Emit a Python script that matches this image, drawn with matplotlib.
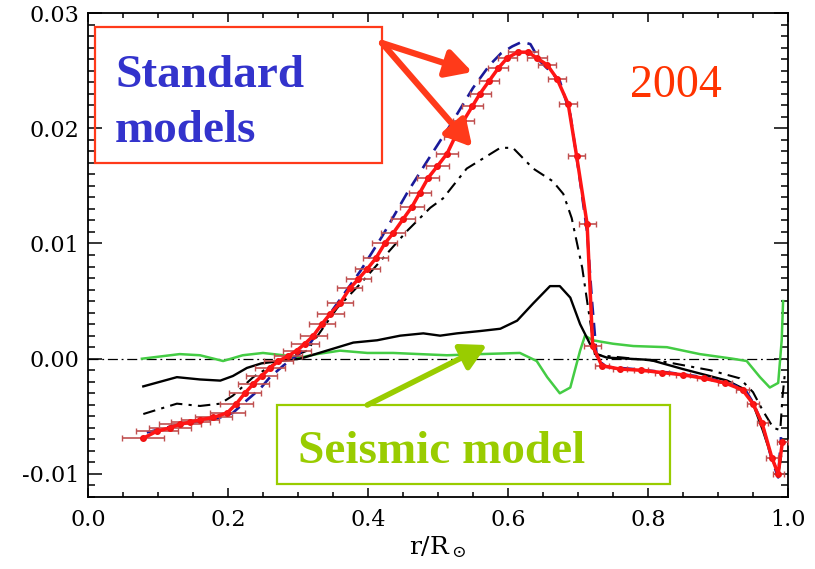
import matplotlib
matplotlib.use("Agg")
import matplotlib.pyplot as plt
from matplotlib.ticker import MultipleLocator, FixedLocator
from matplotlib.patches import Rectangle

matplotlib.rcParams["mathtext.fontset"] = "dejavuserif"

# ---------------- data ----------------
# Inverted (observed) sound-speed difference with horizontal error bars
r_obs = [0.079, 0.098, 0.117, 0.131, 0.146, 0.160, 0.179, 0.199, 0.212, 0.224,
         0.236, 0.248, 0.260, 0.272, 0.285, 0.298, 0.310, 0.322, 0.334, 0.346,
         0.360, 0.374, 0.386, 0.399, 0.411, 0.424, 0.436, 0.450, 0.463, 0.474,
         0.486, 0.499, 0.513, 0.524, 0.536, 0.549, 0.560, 0.573, 0.586, 0.599,
         0.614, 0.629, 0.641, 0.656, 0.670, 0.686, 0.698, 0.713, 0.721, 0.734,
         0.760, 0.790, 0.820, 0.850, 0.880, 0.910, 0.935, 0.950, 0.963, 0.977,
         0.986, 0.992]
dc_obs = [-0.0069, -0.0063, -0.0060, -0.0057, -0.0055, -0.0053, -0.0051, -0.0047, -0.0039, -0.0030,
          -0.0022, -0.0015, -0.0008, -0.0002, 0.0002, 0.0007, 0.0013, 0.0020, 0.0030, 0.0039,
          0.0048, 0.0061, 0.0069, 0.0078, 0.0087, 0.0100, 0.0109, 0.0121, 0.0132, 0.0144,
          0.0157, 0.0167, 0.0178, 0.0192, 0.0206, 0.0219, 0.0230, 0.0241, 0.0252, 0.0261,
          0.0266, 0.0266, 0.0261, 0.0255, 0.0243, 0.0221, 0.0176, 0.0117, 0.0011, -0.0006,
          -0.0009, -0.0010, -0.0012, -0.0014, -0.0017, -0.0021, -0.0027, -0.0039, -0.0056, -0.0086,
          -0.0100, -0.0072]
xerr_obs = [0.030, 0.030, 0.030, 0.030, 0.028, 0.027, 0.026, 0.025, 0.024, 0.023,
            0.022, 0.022, 0.021, 0.021, 0.020, 0.020, 0.020, 0.019, 0.019, 0.019,
            0.019, 0.018, 0.018, 0.018, 0.018, 0.018, 0.017, 0.017, 0.017, 0.016,
            0.016, 0.016, 0.016, 0.015, 0.015, 0.015, 0.015, 0.014, 0.014, 0.014,
            0.014, 0.014, 0.014, 0.013, 0.013, 0.013, 0.012, 0.012, 0.012, 0.010,
            0.010, 0.010, 0.010, 0.010, 0.010, 0.010, 0.009, 0.009, 0.008, 0.008,
            0.008, 0.008]

# Standard model 1 (blue dashed)
r_std1 = [0.084, 0.131, 0.184, 0.207, 0.227, 0.246, 0.260, 0.279, 0.299, 0.317,
          0.349, 0.389, 0.420, 0.457, 0.484, 0.520, 0.550, 0.574, 0.590, 0.606,
          0.620, 0.632, 0.646, 0.674, 0.689, 0.703, 0.713, 0.720, 0.727, 0.740,
          0.780, 0.830, 0.880, 0.920, 0.940, 0.950, 0.963, 0.977, 0.986, 0.990]
dc_std1 = [-0.0064, -0.0057, -0.0052, -0.0047, -0.0036, -0.0026, -0.0016, -0.0006, 0.0003, 0.0013,
           0.0042, 0.0076, 0.0106, 0.0145, 0.0171, 0.0205, 0.0235, 0.0255, 0.0265, 0.0271,
           0.0275, 0.0273, 0.0258, 0.0241, 0.0212, 0.0154, 0.0110, 0.0050, 0.0000, -0.0007,
           -0.0009, -0.0012, -0.0016, -0.0022, -0.0028, -0.0038, -0.0056, -0.0088, -0.0103, -0.0068]

# Standard model 2 (black dash-dot)
r_std2 = [0.079, 0.127, 0.160, 0.189, 0.207, 0.236, 0.270, 0.289, 0.313, 0.356,
          0.389, 0.421, 0.456, 0.489, 0.507, 0.541, 0.589, 0.607, 0.636, 0.664,
          0.679, 0.691, 0.706, 0.713, 0.720, 0.724, 0.731, 0.780, 0.827, 0.889,
          0.931, 0.950, 0.964, 0.979, 0.989, 0.992, 0.996]
dc_std2 = [-0.0048, -0.0039, -0.0041, -0.0039, -0.0032, -0.0016, -0.0003, 0.0001, 0.0007, 0.0044,
           0.0065, 0.0087, 0.0111, 0.0131, 0.0139, 0.0165, 0.0183, 0.0183, 0.0165, 0.0154,
           0.0143, 0.0122, 0.0079, 0.0050, 0.0022, 0.0004, 0.0003, 0.0000, -0.0003, -0.0010,
           -0.0017, -0.0029, -0.0045, -0.0060, -0.0062, -0.0034, -0.0010]

# Model 3 (black solid)
r_mod3 = [0.079, 0.127, 0.160, 0.189, 0.207, 0.227, 0.248, 0.274, 0.303, 0.341,
          0.379, 0.413, 0.446, 0.479, 0.503, 0.527, 0.560, 0.589, 0.613, 0.636,
          0.660, 0.674, 0.689, 0.703, 0.717, 0.727, 0.741, 0.803, 0.850, 0.913,
          0.936, 0.950, 0.964, 0.977, 0.986, 0.990]
dc_mod3 = [-0.0024, -0.0016, -0.0018, -0.0019, -0.0015, -0.0008, -0.0004, -0.0002, 0.0000, 0.0007,
           0.0014, 0.0016, 0.0020, 0.0022, 0.0020, 0.0022, 0.0024, 0.0026, 0.0033, 0.0048,
           0.0063, 0.0063, 0.0053, 0.0030, 0.0013, 0.0004, 0.0001, -0.0001, -0.0009, -0.0019,
           -0.0026, -0.0039, -0.0062, -0.0086, -0.0100, -0.0085]

# Seismic model (green)
r_seis = [0.077, 0.131, 0.160, 0.193, 0.221, 0.250, 0.279, 0.303, 0.327, 0.360,
          0.399, 0.436, 0.474, 0.513, 0.560, 0.617, 0.641, 0.656, 0.674, 0.689,
          0.703, 0.710, 0.721, 0.750, 0.779, 0.827, 0.874, 0.921, 0.941, 0.960,
          0.974, 0.986, 0.991, 0.993]
dc_seis = [0.0000, 0.0004, 0.0003, -0.0002, 0.0003, 0.0005, 0.0003, 0.0001, 0.0004, 0.0007,
           0.0005, 0.0005, 0.0004, 0.0003, 0.0004, 0.0005, -0.0002, -0.0016, -0.0030, -0.0025,
           0.0007, 0.0020, 0.0016, 0.0013, 0.0011, 0.0010, 0.0004, 0.0000, -0.0002, -0.0016,
           -0.0025, -0.0021, 0.0016, 0.0050]

xticks = [0.0, 0.2, 0.4, 0.6, 0.8, 1.0]
xticklabels = ["0.0", "0.2", "0.4", "0.6", "0.8", "1.0"]
yticks = [-0.01, 0.0, 0.01, 0.02, 0.03]
yticklabels = ["-0.01", "0.00", "0.01", "0.02", "0.03"]

# ---------------- figure ----------------
fig = plt.figure(figsize=(8.15, 5.69), dpi=100)
ax = fig.add_axes([88/815, 1-497/569, 700/815, 484/569])

ax.axhline(0.0, color="black", lw=0.9, ls=(0, (8, 3, 1.5, 3)), zorder=1)

ax.plot(r_seis, dc_seis, color="#44cc44", lw=1.8, zorder=2)
ax.plot(r_mod3, dc_mod3, color="black", lw=1.7, zorder=3)
ax.plot(r_std2, dc_std2, color="black", lw=1.5, ls=(0, (6, 3, 1.5, 3)), zorder=3)
ax.plot(r_std1, dc_std1, color="#1a1a9a", lw=1.9, ls=(0, (5, 3)), zorder=4)
ax.errorbar(r_obs, dc_obs, xerr=xerr_obs, fmt="o", ms=4, color="#ee1111",
            ecolor="#c05050", elinewidth=1.2, capsize=2.5, capthick=1.0, zorder=5)
ax.plot(r_obs, dc_obs, color="#ff1515", lw=2.5, zorder=6)

ax.set_xlim(0.0, 1.0)
ax.set_ylim(-0.012, 0.0300)

ax.xaxis.set_major_locator(FixedLocator(xticks))
ax.set_xticklabels(xticklabels)
ax.xaxis.set_minor_locator(MultipleLocator(0.05))
ax.yaxis.set_major_locator(FixedLocator(yticks))
ax.set_yticklabels(yticklabels)
ax.yaxis.set_minor_locator(MultipleLocator(0.001))

serif = "DejaVu Serif"
ax.tick_params(axis="both", which="both", direction="in", top=True, right=True,
               width=1.1, color="black")
ax.tick_params(axis="x", which="major", length=6.5, pad=9, labelsize=16)
ax.tick_params(axis="x", which="minor", length=3.5)
ax.tick_params(axis="y", which="major", length=10, pad=6, labelsize=16)
ax.tick_params(axis="y", which="minor", length=5)
for lab in ax.get_xticklabels() + ax.get_yticklabels():
    lab.set_family(serif)
for sp in ax.spines.values():
    sp.set_linewidth(1.3)

ax.set_xlabel(r"r/R$_\odot$", family=serif, fontsize=18, labelpad=2)

# ---------------- annotations ----------------
tfam = ["Liberation Serif", "DejaVu Serif"]
red = "#ff3a1a"
green = "#99cc00"

ax.add_patch(Rectangle((0.01, 0.69), 0.41, 0.281, transform=ax.transAxes,
                       fill=False, ec=red, lw=1.6, zorder=7, clip_on=False))
ax.text(0.0386, 0.847, "Standard", transform=ax.transAxes, family=tfam,
        fontweight="bold", fontsize=34, color="#3333cc", va="baseline", ha="left", zorder=8)
ax.text(0.0386, 0.733, "models", transform=ax.transAxes, family=tfam,
        fontweight="bold", fontsize=34, color="#3333cc", va="baseline", ha="left", zorder=8)

ax.text(0.774, 0.826, "2004", transform=ax.transAxes, family=tfam,
        fontsize=33, color="#ff3300", va="baseline", ha="left", zorder=8)

ax.add_patch(Rectangle((0.27, 0.027), 0.561, 0.163, transform=ax.transAxes,
                       facecolor="white", ec=green, lw=1.6, zorder=7))
ax.text(0.30, 0.07, "Seismic model", transform=ax.transAxes, family=tfam,
        fontweight="bold", fontsize=34, color=green, va="baseline", ha="left", zorder=8)

arrow_red = dict(arrowstyle="-|>,head_length=1.1,head_width=0.6", lw=4.5,
                 color=red, shrinkA=0, shrinkB=0, mutation_scale=14)
ax.annotate("", xy=(0.549, 0.878), xytext=(0.42, 0.938), xycoords="axes fraction",
            textcoords="axes fraction", arrowprops=arrow_red, zorder=9)
ax.annotate("", xy=(0.549, 0.723), xytext=(0.42, 0.938), xycoords="axes fraction",
            textcoords="axes fraction", arrowprops=arrow_red, zorder=9)
arrow_green = dict(arrowstyle="-|>,head_length=1.1,head_width=0.6", lw=4,
                   color=green, shrinkA=0, shrinkB=0, mutation_scale=14)
ax.annotate("", xy=(0.57, 0.314), xytext=(0.399, 0.19), xycoords="axes fraction",
            textcoords="axes fraction", arrowprops=arrow_green, zorder=9)

fig.savefig("out.png", dpi=100)
